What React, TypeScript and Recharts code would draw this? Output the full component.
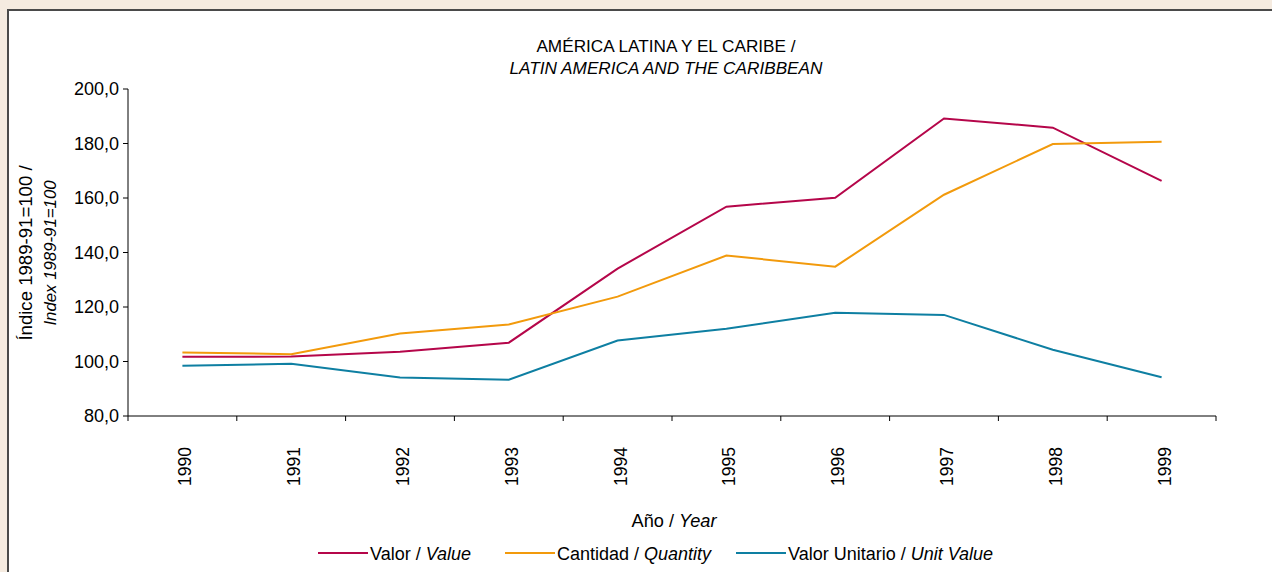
import { LineChart, Line, XAxis, YAxis } from 'recharts';

// Años / categorías
const years = ['1990', '1991', '1992', '1993', '1994', '1995', '1996', '1997', '1998', '1999'];

// Índice 1989-91=100
const valor = [101.7, 101.8, 103.6, 106.9, 134.1, 156.8, 160.1, 189.2, 185.8, 166.3];
const cantidad = [103.3, 102.7, 110.3, 113.6, 123.8, 138.9, 134.8, 161.2, 179.8, 180.6];
const valorUnitario = [98.4, 99.2, 94.1, 93.3, 107.7, 112.0, 117.9, 117.1, 104.3, 94.2];

const yTicks = [80, 100, 120, 140, 160, 180, 200];

const series = [
    { key: 'valor', es: 'Valor', en: 'Value', color: '#b5064a' },
    { key: 'cantidad', es: 'Cantidad', en: 'Quantity', color: '#f29a0c' },
    { key: 'valorUnitario', es: 'Valor Unitario', en: 'Unit Value', color: '#0e7fa2' },
];

const chartData = years.map((year, i) => ({
    x: i + 0.5,
    year,
    valor: valor[i],
    cantidad: cantidad[i],
    valorUnitario: valorUnitario[i],
}));

// tick marks between categories, labels at category centres
const xTicks: number[] = [];
for (let i = 0; i <= years.length; i++) {
    xTicks.push(i);
    if (i < years.length) xTicks.push(i + 0.5);
}

const FONT = '"Liberation Sans", Arial, sans-serif';

const XTick = (props: any) => {
    const { x, y, payload } = props;
    const v = payload.value as number;
    if (Number.isInteger(v)) {
        return <line x1={x} y1={y} x2={x} y2={y + 5} stroke="#000" strokeWidth={1} />;
    }
    return (
        <text
            transform={`translate(${x + 3},${y + 31}) rotate(-90)`}
            textAnchor="end"
            dominantBaseline="central"
            fontSize={17.5}
            fontFamily={FONT}
            fill="#000"
        >
            {years[Math.floor(v)]}
        </text>
    );
};

export default function App() {
    // x of each legend sample line
    const legendX = [318, 505, 736];

    return (
        <div
            style={{
                position: 'absolute',
                left: 0,
                top: 0,
                width: 1272,
                height: 572,
                background: '#f5ebe0',
                overflow: 'hidden',
                fontFamily: FONT,
            }}
        >
            <div
                style={{
                    position: 'absolute',
                    left: 7,
                    top: 9,
                    width: 1300,
                    height: 600,
                    background: '#fff',
                    border: '2px solid #4a4a4a',
                }}
            />
            <div style={{ position: 'absolute', left: 0, top: 0 }}>
                <LineChart
                    width={1272}
                    height={572}
                    data={chartData}
                    margin={{ top: 89, right: 56, left: 68, bottom: 96 }}
                >
                    <XAxis
                        dataKey="x"
                        type="number"
                        domain={[0, years.length]}
                        ticks={xTicks}
                        interval={0}
                        tickSize={0}
                        tickMargin={0}
                        tickLine={false}
                        tick={<XTick />}
                        height={60}
                        axisLine={{ stroke: '#000', strokeWidth: 1 }}
                    />
                    <YAxis
                        type="number"
                        domain={[80, 200]}
                        ticks={yTicks}
                        interval={0}
                        width={60}
                        tickSize={5}
                        tickMargin={4}
                        axisLine={{ stroke: '#000', strokeWidth: 1 }}
                        tickLine={{ stroke: '#000', strokeWidth: 1 }}
                        tick={{ fill: '#000', fontSize: 18, fontFamily: FONT }}
                        tickFormatter={(v: number) => v.toFixed(1).replace('.', ',')}
                    />
                    {series.map((s) => (
                        <Line
                            key={s.key}
                            type="linear"
                            dataKey={s.key}
                            stroke={s.color}
                            strokeWidth={2}
                            dot={false}
                            activeDot={false}
                            isAnimationActive={false}
                        />
                    ))}
                </LineChart>
            </div>
            <svg
                width={1272}
                height={572}
                style={{ position: 'absolute', left: 0, top: 0, pointerEvents: 'none' }}
                fontFamily={FONT}
                fontSize={16}
                fill="#000"
            >
                <text x={666} y={52} textAnchor="middle" fontSize={17.2}>
                    AMÉRICA LATINA Y EL CARIBE /
                </text>
                <text x={666} y={74} textAnchor="middle" fontStyle="italic" fontSize={17.2}>
                    LATIN AMERICA AND THE CARIBBEAN
                </text>

                <text transform="translate(32,253) rotate(-90)" textAnchor="middle" fontSize={18.6}>
                    Índice 1989-91=100 /
                </text>
                <text
                    transform="translate(56,253) rotate(-90)"
                    textAnchor="middle"
                    fontStyle="italic"
                    fontSize={16.8}
                >
                    Index 1989-91=100
                </text>

                <text x={674} y={527} textAnchor="middle" fontSize={18.2}>
                    Año / <tspan fontStyle="italic">Year</tspan>
                </text>

                {series.map((s, i) => {
                    const lx = legendX[i];
                    return (
                        <g key={s.key}>
                            <line x1={lx} y1={553} x2={lx + 50} y2={553} stroke={s.color} strokeWidth={2} />
                            <text x={lx + 52} y={559.5} fontSize={18}>
                                {s.es} / <tspan fontStyle="italic">{s.en}</tspan>
                            </text>
                        </g>
                    );
                })}
            </svg>
        </div>
    );
}
